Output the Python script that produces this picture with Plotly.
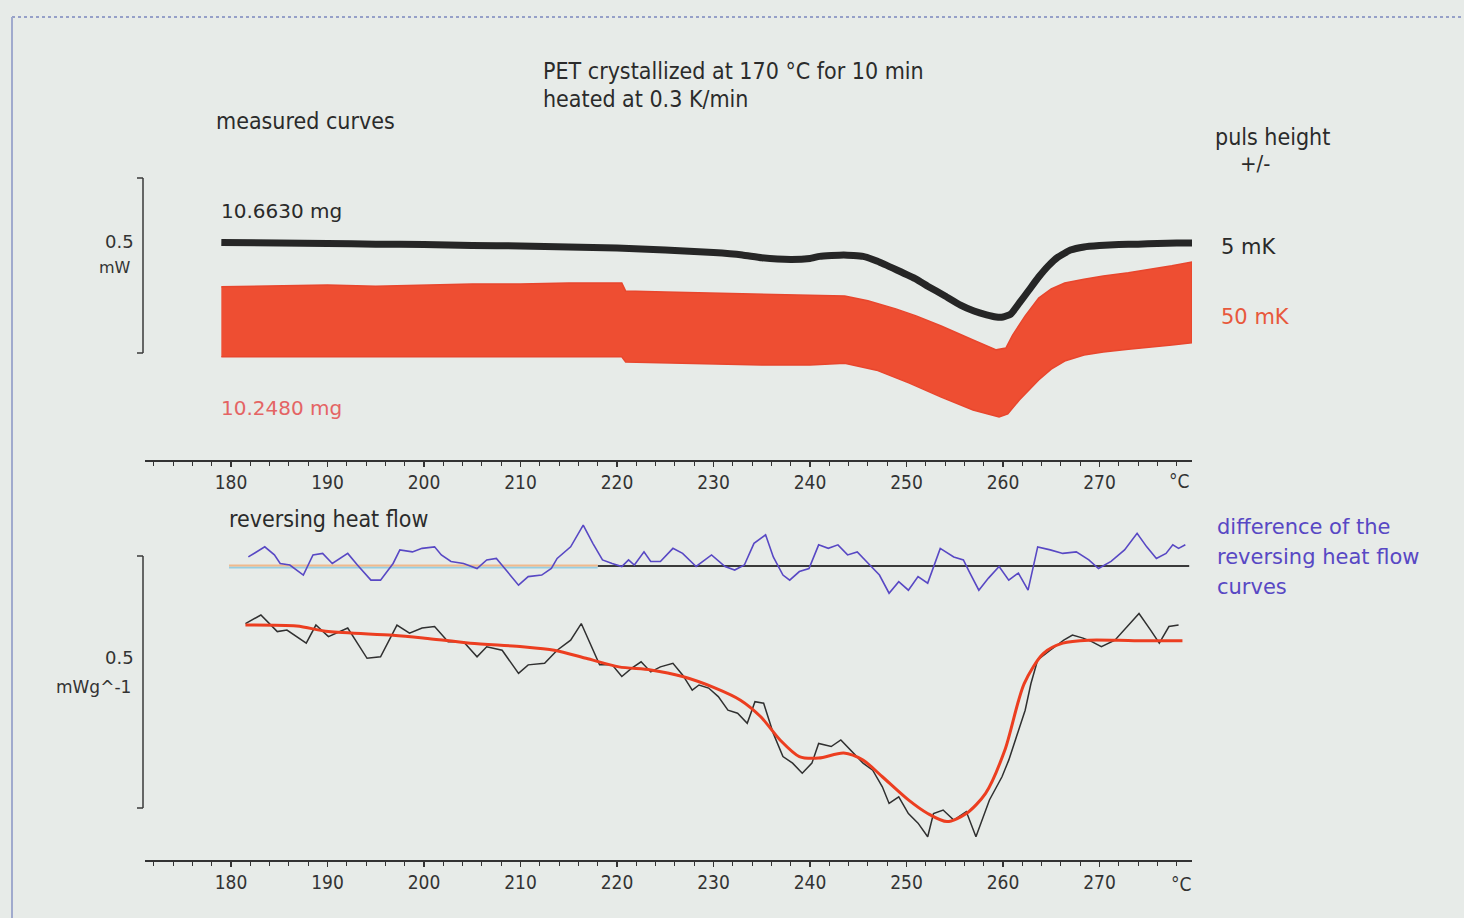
import plotly.graph_objects as go

W, H = 1464, 918

# ---------------- data ----------------
# top panel: measured heat flow curves, mW (arbitrary zero at bottom of 0.5 mW scale bar)
t_black = [179.0, 185, 190, 195, 200, 205, 210, 215, 220, 225, 230, 233, 235, 238, 240, 241,
           243.5, 245.5, 247, 249, 251, 252.2, 254, 255.6, 257, 258.3, 259.3, 260, 260.8, 261.7,
           262.7, 263.7, 264.7, 265.7, 267, 268.4, 270, 272, 274, 276, 278, 279.7]
hf_black = [0.316, 0.314, 0.313, 0.311, 0.310, 0.307, 0.306, 0.303, 0.300, 0.294, 0.287, 0.280,
            0.272, 0.267, 0.270, 0.276, 0.280, 0.276, 0.262, 0.237, 0.211, 0.191, 0.163, 0.137,
            0.120, 0.109, 0.103, 0.103, 0.111, 0.143, 0.180, 0.217, 0.249, 0.274, 0.294, 0.303,
            0.307, 0.310, 0.311, 0.313, 0.314, 0.314]

t_red_up = [179.0, 185, 190, 195, 200, 205, 210, 215, 220.5, 220.9, 225, 230, 235, 240, 243.6,
            246, 248.9, 251, 253.6, 256.9, 259.3, 260.3, 261, 262.3, 263.7, 265, 266.4, 268.4,
            270.4, 273, 275, 277.5, 279.6]
hf_red_up = [0.189, 0.191, 0.194, 0.191, 0.194, 0.197, 0.197, 0.200, 0.200, 0.177, 0.174, 0.171,
             0.169, 0.166, 0.163, 0.149, 0.126, 0.106, 0.077, 0.037, 0.009, 0.014, 0.051, 0.106,
             0.157, 0.183, 0.200, 0.211, 0.220, 0.229, 0.237, 0.249, 0.260]
t_red_lo = [179.0, 185, 190, 195, 200, 205, 210, 215, 220.5, 220.9, 225, 230, 235, 240, 243.6,
            246.9, 250.3, 253.6, 256.9, 259.6, 260.5, 261.7, 263.7, 265, 266.4, 268.4, 270.4,
            273, 275, 277.5, 279.6]
hf_red_lo = [-0.011, -0.011, -0.011, -0.011, -0.011, -0.009, -0.009, -0.011, -0.011, -0.026,
             -0.029, -0.031, -0.034, -0.034, -0.029, -0.049, -0.086, -0.126, -0.163, -0.183,
             -0.174, -0.134, -0.077, -0.046, -0.023, -0.006, 0.003, 0.011, 0.017, 0.023, 0.029]

# bottom panel: reversing heat flow, mW g^-1
t_diff = [181.8, 183.5, 184.5, 185.1, 186.1, 187.5, 188.5, 189.5, 190.5, 192.1, 193.1, 194.5,
          195.5, 196.8, 197.5, 198.8, 199.8, 201.1, 201.8, 202.8, 204.1, 205.5, 206.5, 207.5,
          208.2, 209.8, 210.8, 212.2, 213.2, 213.8, 215.2, 216.5, 217.5, 218.5, 219.5, 220.5,
          221.2, 221.8, 222.8, 223.5, 224.5, 225.8, 226.8, 228.2, 229.8, 231.2, 232.2, 233.2,
          234.2, 235.4, 236.2, 237.2, 237.9, 238.9, 239.9, 240.9, 241.9, 242.9, 243.9, 244.9,
          246.2, 247.2, 248.2, 249.2, 250.2, 251.2, 252.2, 253.5, 254.9, 255.9, 256.5, 257.5,
          258.5, 259.6, 260.6, 261.6, 262.6, 263.6, 264.9, 266.2, 267.6, 268.9, 269.9, 271.2,
          272.6, 273.9, 274.9, 275.9, 276.9, 277.6, 278.2, 278.9]
diff = [0.018, 0.038, 0.022, 0.005, 0.002, -0.018, 0.022, 0.025, 0.005, 0.025, 0.002, -0.028,
        -0.028, 0.005, 0.032, 0.028, 0.035, 0.038, 0.022, 0.009, 0.005, -0.005, 0.012, 0.015,
        -0.001, -0.038, -0.021, -0.018, -0.005, 0.015, 0.038, 0.081, 0.045, 0.012, 0.005, -0.001,
        0.012, 0.002, 0.028, 0.009, 0.009, 0.035, 0.025, -0.001, 0.022, -0.001, -0.008, 0.002,
        0.045, 0.062, 0.018, -0.018, -0.028, -0.011, -0.005, 0.042, 0.035, 0.042, 0.022, 0.028,
        0.002, -0.018, -0.054, -0.031, -0.048, -0.021, -0.034, 0.035, 0.018, 0.012, -0.011,
        -0.048, -0.024, -0.001, -0.028, -0.014, -0.048, 0.038, 0.032, 0.025, 0.028, 0.012,
        -0.005, 0.009, 0.032, 0.065, 0.038, 0.015, 0.025, 0.042, 0.035, 0.042]

t_rev_5 = [181.5, 183.1, 184.8, 185.8, 187.8, 188.8, 190.1, 192.1, 194.1, 195.5, 197.2, 198.5,
           199.8, 201.1, 202.5, 204.1, 205.5, 206.5, 208.1, 209.8, 210.8, 212.5, 213.8, 215.2,
           216.3, 217.5, 218.2, 219.5, 220.5, 221.5, 222.5, 223.5, 224.5, 225.8, 226.8, 227.8,
           228.5, 229.5, 230.5, 231.5, 232.5, 233.5, 234.3, 235.2, 236.2, 237.2, 238.2, 239.2,
           240.2, 240.9, 242.2, 243.2, 244.2, 245.5, 246.5, 247.5, 248.2, 249.2, 250.2, 251.2,
           252.2, 252.8, 253.8, 254.9, 256.2, 257.2, 258.6, 259.9, 260.6, 261.6, 262.3, 262.9,
           263.6, 264.9, 266.3, 267.2, 268.3, 269.2, 270.2, 271.6, 272.9, 274.1, 275.3, 276.2,
           277.2, 278.2]
rev_5 = [0.366, 0.383, 0.350, 0.353, 0.327, 0.363, 0.340, 0.357, 0.297, 0.300, 0.363, 0.347,
         0.357, 0.360, 0.330, 0.330, 0.300, 0.320, 0.313, 0.267, 0.284, 0.287, 0.313, 0.333,
         0.366, 0.313, 0.284, 0.284, 0.261, 0.277, 0.290, 0.270, 0.280, 0.287, 0.264, 0.234,
         0.244, 0.238, 0.221, 0.194, 0.188, 0.168, 0.211, 0.208, 0.148, 0.102, 0.089, 0.069,
         0.089, 0.128, 0.122, 0.135, 0.115, 0.089, 0.075, 0.042, 0.009, 0.022, -0.011, -0.030,
         -0.057, -0.011, -0.004, -0.024, -0.007, -0.057, 0.016, 0.062, 0.095, 0.155, 0.194,
         0.247, 0.294, 0.313, 0.333, 0.343, 0.337, 0.330, 0.320, 0.333, 0.360, 0.386, 0.353,
         0.327, 0.360, 0.363]

t_rev_50 = [181.5, 186.8, 190.1, 196.8, 200.1, 204.8, 210.2, 213.5, 216.8, 220.2, 223.5, 226.8,
            230.2, 232.8, 234.9, 236.9, 238.9, 240.9, 243.5, 245.5, 247.5, 250.2, 252.2, 254.2,
            256.2, 258.2, 260.2, 262.2, 264.2, 266.2, 268.9, 273.6, 278.6]
rev_50 = [0.363, 0.361, 0.350, 0.343, 0.337, 0.327, 0.320, 0.313, 0.297, 0.280, 0.274, 0.261,
          0.238, 0.214, 0.181, 0.135, 0.102, 0.099, 0.109, 0.095, 0.062, 0.016, -0.011, -0.027,
          -0.011, 0.029, 0.115, 0.247, 0.307, 0.327, 0.333, 0.332, 0.332]

x_ticks = [180, 190, 200, 210, 220, 230, 240, 250, 260, 270]
x_tick_text = [str(v) for v in x_ticks]

# ---------------- styling / layout constants ----------------
BG = "#e7ebe8"
INK = "#2b2b2b"
RED = "rgb(238,78,50)"
BLUE = "rgb(88,72,196)"
NARROW = "Liberation Sans Narrow, Arial Narrow, DejaVu Sans Condensed, Liberation Sans, sans-serif"
VERD = "DejaVu Sans, Verdana, sans-serif"

X_RANGE = [171.09, 279.59]
XL, XR = 145, 1192            # plot area left/right (px)
TOP_Y0, TOP_Y1 = 460, 165      # top panel bottom/top (px)
BOT_Y0, BOT_Y1 = 860, 495      # bottom panel bottom/top (px)
TOP_RANGE = [(353 - 460) / 350, (353 - 165) / 350]
BOT_RANGE = [(808 - 860) / 504, (808 - 495) / 504]
DIFF_ZERO = (808 - 566) / 504  # where the difference curve's zero sits on the bottom panel


def px(x, y):
    return x / W, 1 - y / H


fig = go.Figure()

# top panel -------------------------------------------------------
band_x = t_red_up + t_red_lo[::-1]
band_y = hf_red_up + hf_red_lo[::-1]
fig.add_trace(go.Scatter(x=band_x, y=band_y, fill="toself", fillcolor=RED, mode="lines",
                         line=dict(color="rgb(232,70,45)", width=1.5), xaxis="x", yaxis="y",
                         showlegend=False, hoverinfo="skip"))
fig.add_trace(go.Scatter(x=t_black, y=hf_black, mode="lines",
                         line=dict(color="#262626", width=7, shape="spline", smoothing=0.4),
                         xaxis="x", yaxis="y", showlegend=False))

# bottom panel ----------------------------------------------------
fig.add_trace(go.Scatter(x=[218.0, 279.3], y=[DIFF_ZERO, DIFF_ZERO], mode="lines",
                         line=dict(color="#3a3a3a", width=2), xaxis="x2", yaxis="y2",
                         showlegend=False, hoverinfo="skip"))
fig.add_trace(go.Scatter(x=[179.8, 218.0], y=[DIFF_ZERO - 0.003, DIFF_ZERO - 0.003], mode="lines",
                         line=dict(color="rgb(150,205,225)", width=2), xaxis="x2", yaxis="y2",
                         showlegend=False, hoverinfo="skip"))
fig.add_trace(go.Scatter(x=[179.8, 218.0], y=[DIFF_ZERO + 0.001, DIFF_ZERO + 0.001], mode="lines",
                         line=dict(color="rgb(240,185,140)", width=2), xaxis="x2", yaxis="y2",
                         showlegend=False, hoverinfo="skip"))
fig.add_trace(go.Scatter(x=t_diff, y=[DIFF_ZERO + d for d in diff], mode="lines",
                         line=dict(color=BLUE, width=1.6), xaxis="x2", yaxis="y2",
                         showlegend=False))
fig.add_trace(go.Scatter(x=t_rev_5, y=rev_5, mode="lines",
                         line=dict(color="#303030", width=1.5), xaxis="x2", yaxis="y2",
                         showlegend=False))
fig.add_trace(go.Scatter(x=t_rev_50, y=rev_50, mode="lines",
                         line=dict(color="rgb(236,62,32)", width=3, shape="spline", smoothing=0.8),
                         xaxis="x2", yaxis="y2", showlegend=False))

xaxis_common = dict(
    range=X_RANGE, domain=[XL / W, XR / W], showgrid=False, zeroline=False,
    showline=True, linecolor="#333333", linewidth=1.5,
    ticks="outside", ticklen=5, tickwidth=1.2, tickcolor="#333333",
    tickvals=x_ticks, ticktext=x_tick_text,
    tickfont=dict(family=NARROW, size=19, color="#333333"),
    minor=dict(dtick=2, tick0=180, ticks="outside", ticklen=4, tickwidth=1, tickcolor="#333333"),
    fixedrange=True,
)

fig.update_layout(
    width=W, height=H,
    margin=dict(l=0, r=0, t=0, b=0),
    paper_bgcolor=BG, plot_bgcolor=BG,
    xaxis=dict(**xaxis_common, anchor="y"),
    yaxis=dict(range=TOP_RANGE, domain=[1 - TOP_Y0 / H, 1 - TOP_Y1 / H], visible=False,
               fixedrange=True),
    xaxis2=dict(**xaxis_common, anchor="y2"),
    yaxis2=dict(range=BOT_RANGE, domain=[1 - BOT_Y0 / H, 1 - BOT_Y1 / H], visible=False,
                fixedrange=True),
)

# scale bars (0.5 units each) ----------------------------------------
shapes = []
for yref in ("y", "y2"):
    bx, sx = 143 / W, 137 / W
    shapes.append(dict(type="line", xref="paper", yref=yref, x0=bx, x1=bx, y0=0, y1=0.5,
                       line=dict(color="#3a3a3a", width=1.5)))
    for yy in (0, 0.5):
        shapes.append(dict(type="line", xref="paper", yref=yref, x0=sx, x1=bx, y0=yy, y1=yy,
                           line=dict(color="#3a3a3a", width=1.5)))
# frame lines
shapes.append(dict(type="line", xref="paper", yref="paper", x0=12 / W, x1=1, y0=1 - 17 / H,
                   y1=1 - 17 / H, line=dict(color="rgb(150,160,200)", width=2, dash="dot")))
shapes.append(dict(type="line", xref="paper", yref="paper", x0=12 / W, x1=12 / W, y0=0,
                   y1=1 - 17 / H, line=dict(color="rgb(160,170,205)", width=2)))
fig.update_layout(shapes=shapes)


def label(text, x, y, size, color=INK, family=NARROW, anchor="left"):
    ax, ay = px(x, y)
    fig.add_annotation(x=ax, y=ay, xref="paper", yref="paper", text=text, showarrow=False,
                       xanchor=anchor, yanchor="middle",
                       font=dict(family=family, size=size, color=color))


label("PET crystallized at 170 °C for 10 min", 541, 71, 23)
label("heated at 0.3 K/min", 541, 99, 23)
label("measured curves", 214, 121, 23)
label("puls height", 1213, 137, 23)
label("+/-", 1238, 164, 22)
label("10.6630 mg", 219, 211, 20, color="#2a2a2a", family=VERD)
label("5 mK", 1219, 247, 21, color="#2a2a2a", family=VERD)
label("50 mK", 1219, 317, 21, color="rgb(232,88,60)", family=VERD)
label("10.2480 mg", 219, 408, 20, color="rgb(228,100,100)", family=VERD)
label("reversing heat flow", 227, 519, 23)
label("difference of the", 1215, 527, 21, color=BLUE, family=VERD)
label("reversing heat flow", 1215, 557, 21, color=BLUE, family=VERD)
label("curves", 1215, 587, 21, color=BLUE, family=VERD)
label("0.5", 136, 241, 18, color="#333333", family=VERD, anchor="right")
label("mW", 133, 268, 16, color="#333333", family=VERD, anchor="right")
label("0.5", 136, 657, 18, color="#333333", family=VERD, anchor="right")
label("mWg^-1", 133, 687, 17, color="#333333", family=VERD, anchor="right")

# unit labels at the end of each temperature axis
fig.add_annotation(x=278.3, y=1 - 481 / H, xref="x", yref="paper", text="°C", showarrow=False,
                   yanchor="middle", font=dict(family=NARROW, size=19, color="#333333"))
fig.add_annotation(x=278.5, y=1 - 884 / H, xref="x2", yref="paper", text="°C", showarrow=False,
                   yanchor="middle", font=dict(family=NARROW, size=19, color="#333333"))

fig.write_html("out.html", config={"displayModeBar": False, "staticPlot": True},
               post_script="document.body.style.margin='0px';document.body.style.overflow='hidden';")
